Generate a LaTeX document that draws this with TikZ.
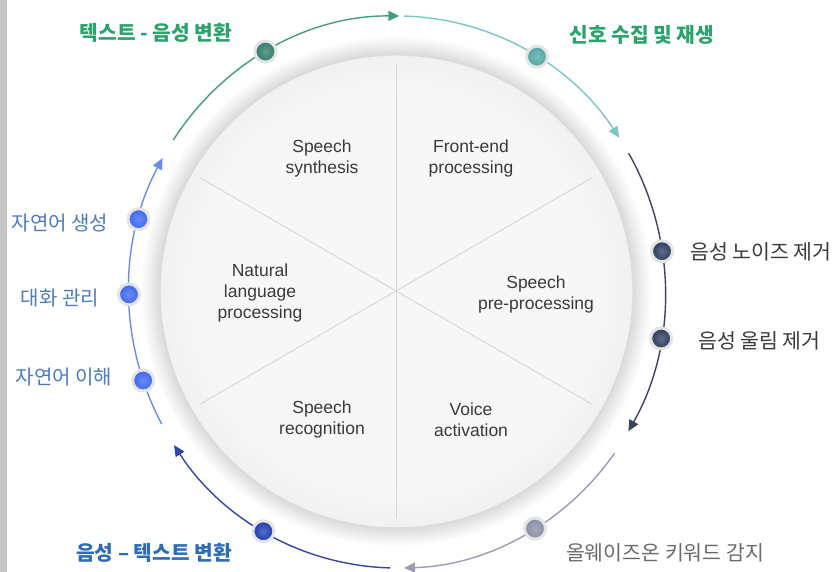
\documentclass[tikz,border=0pt]{standalone}
\usepackage{fontspec}
\setmainfont{Liberation Sans}
\newfontfamily\kr{Noto Sans CJK KR}
\usetikzlibrary{arrows.meta,calc}
\definecolor{discC}{HTML}{F7F7F7}
\definecolor{discE}{HTML}{F1F1F1}
\definecolor{ringIn}{HTML}{D9D9D9}
\definecolor{ringMid}{HTML}{EEEEEE}
\definecolor{barC}{HTML}{C6C6C6}
\definecolor{lineC}{HTML}{D8D8D8}
\definecolor{txtC}{HTML}{3A3A3A}
\definecolor{greenT}{HTML}{2BA46C}
\definecolor{greenA}{HTML}{449C80}
\definecolor{greenD}{HTML}{2F7A68}
\definecolor{tealA}{HTML}{78C8C8}
\definecolor{tealD}{HTML}{4FA5A2}
\definecolor{navyA}{HTML}{3B4563}
\definecolor{navyD}{HTML}{2C3B5E}
\definecolor{grayA}{HTML}{9B9DB2}
\definecolor{grayD}{HTML}{878CA6}
\definecolor{grayT}{HTML}{6A6A6A}
\definecolor{blueA}{HTML}{3146AA}
\definecolor{blueD}{HTML}{1C3BB5}
\definecolor{blueT}{HTML}{2E6CB6}
\definecolor{lblueA}{HTML}{6A8CF0}
\definecolor{lblueD}{HTML}{3A66F0}
\definecolor{lblueT}{HTML}{4A7CBF}
\definecolor{haloC}{HTML}{E4E4E4}
\pgfdeclareradialshading{ringshade}{\pgfpoint{0bp}{0bp}}{%
  color(0bp)=(discC); color(19bp)=(discC); color(22.5bp)=(discE);
  color(22.55bp)=(ringIn); color(23.5bp)=(ringMid); color(24.4bp)=(white);
  color(50bp)=(white)}
\newcommand\arcseg[5]{% style, start, end, name-start, extra
  \coordinate (#4) at ([shift={(C)}]#2:268pt and 276pt);
  \draw[arcline,#1,#5] (#4) arc[start angle=#2,end angle=#3,x radius=268pt,y radius=276pt];}
\begin{document}
\begin{tikzpicture}[x=1pt,y=1pt,
  arcline/.style={line width=1.4pt},
  tip/.style={-{Triangle[length=11pt,width=10pt]}},
  sector/.style={draw=lineC,line width=1pt},
  eng/.style={font=\fontsize{17.5}{21}\selectfont,text=txtC,align=center},
  krlab/.style={font=\kr\fontsize{20.5}{24}\selectfont,inner sep=0pt},
  krleft/.style={font=\kr\fontsize{20}{24}\selectfont,inner sep=0pt},
  krbold/.style={font=\kr\bfseries\fontsize{20.3}{24}\selectfont,inner sep=0pt},
  dot/.style={circle,minimum size=21pt,inner sep=0pt,draw=haloC,line width=3pt,inner color=#1!75!white,outer color=#1}]
\useasboundingbox (0,0) rectangle (834,572);
\fill[white] (0,0) rectangle (834,572);
\fill[barC] (0,0) rectangle (7,572);
\coordinate (C) at (397,280);
\coordinate (D) at (396,281);
% disc with ring
\shade[shading=ringshade] (D) circle[radius=262pt];
% sector lines
\foreach \a in {90,30,150}{
  \coordinate (sa\a) at ($(D)+(\a:227)$);
  \coordinate (sb\a) at ($(D)+(\a+180:227)$);
  \draw[sector] (sa\a) -- (sb\a);
}
% sector texts
\node[eng] (t1) at (322,414) {Speech\\synthesis};
\node[eng] (t2) at (471,414) {Front-end\\processing};
\node[eng] (t3) at (260,279) {Natural\\language\\processing};
\node[eng] (t4) at (536,278) {Speech\\pre-processing};
\node[eng] (t5) at (322,153) {Speech\\recognition};
\node[eng] (t6) at (471,152) {Voice\\activation};
% arcs
\arcseg{greenA,tip}{146.6}{89.5}{g0}{}
\arcseg{tealA,tip}{88.5}{34}{g1}{}
\arcseg{navyA,tip}{30.2}{-30.3}{g2}{}
\arcseg{grayA,tip}{-35.7}{-88.5}{g3}{}
\arcseg{blueA,tip}{-91.5}{-146.3}{g4}{}
\arcseg{lblueA,tip}{208.6}{151}{g5}{}
% dots
\node[dot=greenD] (d1) at ([shift={(C)}]119.4:268pt and 276pt) {};
\node[dot=tealD] (d2) at ([shift={(C)}]58.5:268pt and 276pt) {};
\node[dot=navyD] (d3) at ([shift={(C)}]8.5:268pt and 276pt) {};
\node[dot=navyD] (d4) at ([shift={(C)}]-9.7:268pt and 276pt) {};
\node[dot=grayD] (d5) at ([shift={(C)}]-59:268pt and 276pt) {};
\node[dot=blueD] (d6) at ([shift={(C)}]240.1:268pt and 276pt) {};
\node[dot=lblueD] (d7) at ([shift={(C)}]164.7:268pt and 276pt) {};
\node[dot=lblueD] (d8) at ([shift={(C)}]180.5:268pt and 276pt) {};
\node[dot=lblueD] (d9) at ([shift={(C)}]198.7:268pt and 276pt) {};
% labels
\node[krbold,text=greenT] (l1) at (156,539) {텍스트 - 음성 변환};
\node[krbold,text=greenT] (l2) at (642,537) {신호 수집 및 재생};
\node[krlab,text=txtC,anchor=west] (l3) at (690,320) {음성 노이즈 제거};
\node[krlab,text=txtC,anchor=west] (l4) at (698,231) {음성 울림 제거};
\node[krlab,text=grayT] (l5) at (665,19) {올웨이즈온 키워드 감지};
\node[krbold,text=blueT] (l6) at (154,19) {음성 – 텍스트 변환};
\node[krleft,text=lblueT] (l7) at (60,349) {자연어 생성};
\node[krleft,text=lblueT] (l8) at (60,274) {대화 관리};
\node[krleft,text=lblueT] (l9) at (64,195) {자연어 이해};
\end{tikzpicture}
\end{document}
